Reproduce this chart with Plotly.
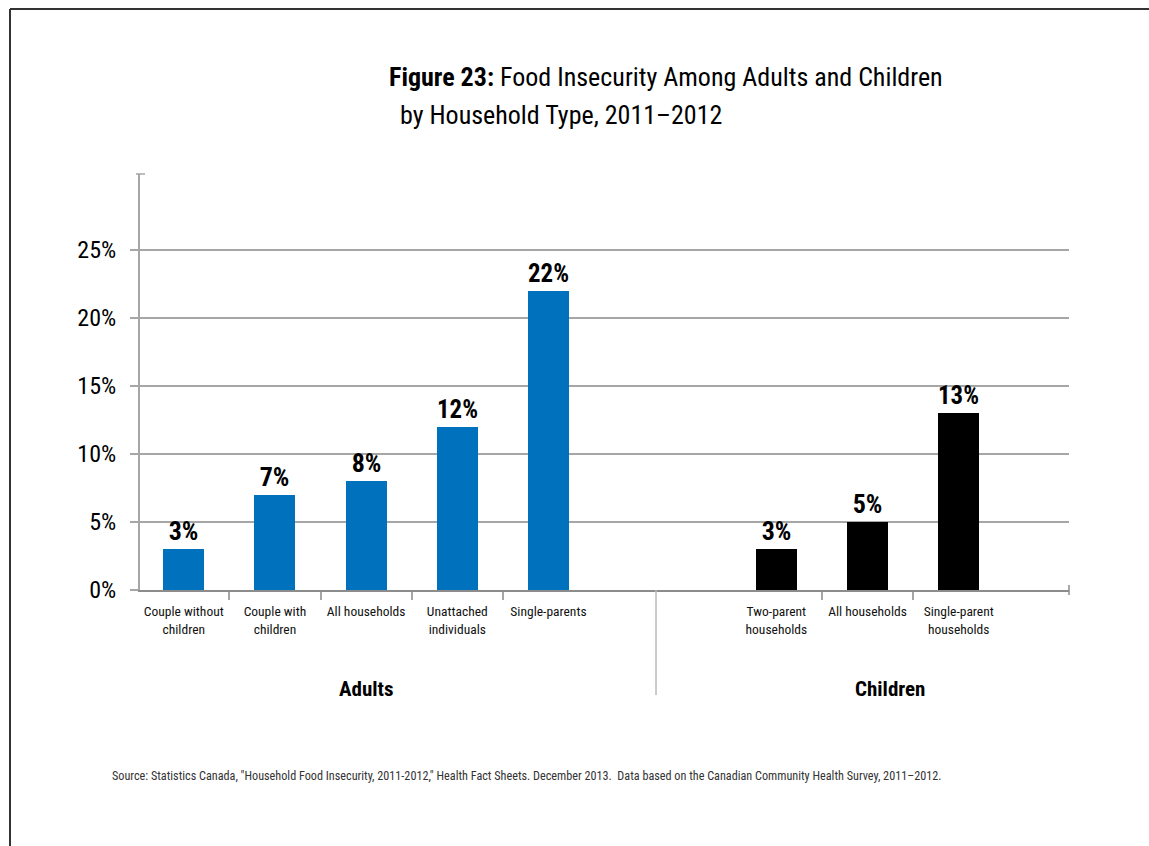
import plotly.graph_objects as go

# Food insecurity by household type, 2011-2012 (percent)
adult_categories = ["Couple without<br>children", "Couple with<br>children", "All households",
                    "Unattached<br>individuals", "Single-parents"]
adult_values = [3, 7, 8, 12, 22]

child_categories = ["Two-parent<br>households", "All households", "Single-parent<br>households"]
child_values = [3, 5, 13]

y_ticks = [0, 5, 10, 15, 20, 25]
y_tick_labels = ["0%", "5%", "10%", "15%", "20%", "25%"]

group_titles = ["Adults", "Children"]
title_bold = "Figure 23:"
title_line1 = " Food Insecurity Among Adults and Children"
title_line2 = "by Household Type, 2011–2012"
source_note = ('Source: Statistics Canada, "Household Food Insecurity, 2011-2012," Health Fact Sheets. '
               'December 2013.  Data based on the Canadian Community Health Survey, 2011–2012.')

FONT = "Roboto Condensed, DejaVu Sans Condensed, sans-serif"
BLUE = "#0071BC"
GRID = "#A6A6A6"
AXIS = "#8C8C8C"

W, H = 1149, 846
M_L, M_R, M_T, M_B = 140, 80, 174, 256
PW, PH = W - M_L - M_R, H - M_T - M_B


def px_x(px):
    return (px - M_L) / PW


def px_y(py):
    return (H - M_B - py) / PH


# slot positions: adults first, children after a gap of 1.5 slots
GAP = 1.5
adult_x = list(range(len(adult_categories)))
child_x = [len(adult_categories) + GAP + i for i in range(len(child_categories))]
divider_x = len(adult_categories) + 0.18

label_font = dict(family=FONT, size=26, color="black", weight="bold")

fig = go.Figure()
fig.add_trace(go.Bar(
    x=adult_x, y=adult_values, width=0.45, marker=dict(color=BLUE, line=dict(width=0)),
    text=[f"{v}%" for v in adult_values], textposition="outside", cliponaxis=False,
    textfont=label_font,
))
fig.add_trace(go.Bar(
    x=child_x, y=child_values, width=0.45, marker=dict(color="black", line=dict(width=0)),
    text=[f"{v}%" for v in child_values], textposition="outside", cliponaxis=False,
    textfont=label_font,
))

all_x = adult_x + child_x
boundaries = [x + 0.5 for x in adult_x[:-1]] + [x + 0.5 for x in child_x[:-1]]

fig.update_layout(
    width=W, height=H,
    margin=dict(l=M_L, r=M_R, t=M_T, b=M_B),
    paper_bgcolor="white", plot_bgcolor="white",
    showlegend=False, bargap=0,
    font=dict(family=FONT, color="black"),
    xaxis=dict(
        range=[-0.48, 9.71], tickmode="array", tickvals=all_x,
        ticktext=adult_categories + child_categories,
        ticks="", showgrid=False, zeroline=False,
        showline=True, linecolor=AXIS, linewidth=2,
        tickfont=dict(family=FONT, size=13.5, color="#111"),
        ticklabelstandoff=8,
        minor=dict(tickmode="array", tickvals=boundaries, ticks="outside",
                   ticklen=8, tickwidth=2, tickcolor=GRID, showgrid=False),
    ),
    yaxis=dict(
        range=[0, PH / 13.6], tickmode="array", tickvals=y_ticks, ticktext=y_tick_labels,
        showgrid=True, gridcolor=GRID, gridwidth=1.5, zeroline=False,
        showline=True, linecolor=GRID, linewidth=2,
        ticks="outside", ticklen=8, tickcolor=GRID, tickwidth=1.5,
        tickfont=dict(family=FONT, size=24, color="black"),
        ticklabelstandoff=9,
    ),
)

shapes = [
    # outer frame (top and left edges)
    dict(type="line", xref="paper", yref="paper", x0=px_x(10), x1=px_x(W + 5),
         y0=px_y(9), y1=px_y(9), line=dict(color="#333", width=2)),
    dict(type="line", xref="paper", yref="paper", x0=px_x(10), x1=px_x(10),
         y0=px_y(9), y1=px_y(H + 5), line=dict(color="#333", width=2)),
    # cap at the top of the value axis
    dict(type="line", xref="paper", yref="paper", x0=px_x(136), x1=px_x(145),
         y0=1, y1=1, line=dict(color=GRID, width=1.5)),
    # cap at the end of the category axis
    dict(type="line", xref="paper", yref="paper", x0=1, x1=1,
         y0=px_y(595), y1=px_y(585), line=dict(color=AXIS, width=1.5)),
    # separator between groups
    dict(type="line", xref="x", yref="paper", x0=divider_x, x1=divider_x,
         y0=0, y1=px_y(695), line=dict(color="#BBBBBB", width=1.5)),
]
fig.update_layout(shapes=shapes)

annotations = [
    dict(text=f"<b>{title_bold}</b>{title_line1}", xref="paper", yref="paper",
         x=px_x(387), y=px_y(77), xanchor="left", yanchor="middle", showarrow=False,
         font=dict(family=FONT, size=26, color="black")),
    dict(text=title_line2, xref="paper", yref="paper",
         x=px_x(398), y=px_y(115), xanchor="left", yanchor="middle", showarrow=False,
         font=dict(family=FONT, size=26, color="black")),
    dict(text=f"<b>{group_titles[0]}</b>", xref="x", yref="paper",
         x=sum(adult_x) / len(adult_x), y=px_y(689), xanchor="center", yanchor="middle",
         showarrow=False, font=dict(family=FONT, size=21, color="black")),
    dict(text=f"<b>{group_titles[1]}</b>", xref="x", yref="paper",
         x=sum(child_x) / len(child_x) + 0.25, y=px_y(689), xanchor="center", yanchor="middle",
         showarrow=False, font=dict(family=FONT, size=21, color="black")),
    dict(text=source_note, xref="paper", yref="paper",
         x=px_x(110), y=px_y(776), xanchor="left", yanchor="middle", showarrow=False,
         font=dict(family=FONT, size=12.2, color="#333")),
]
fig.update_layout(annotations=annotations)

fig.write_html("out.html")
